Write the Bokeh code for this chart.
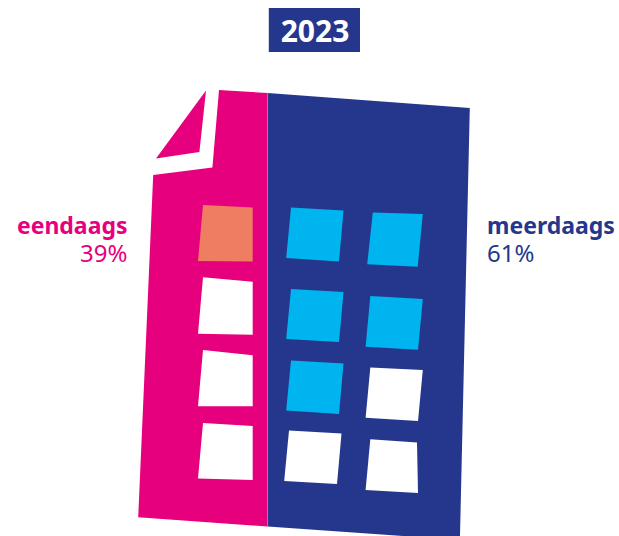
from bokeh.embed import file_html
from bokeh.resources import INLINE
from bokeh.plotting import figure
from bokeh.core.properties import value

# --- data ---
YEAR = "2023"
CATEGORIES = ["eendaags", "meerdaags"]
SHARES = [39, 61]

PINK = "#e6007e"
NAVY = "#25378d"
CYAN = "#00b5ef"
ORANGE = "#ef7d62"
WHITE = "#ffffff"

# pictogram outlines, in reference-picture pixels
PINK_X = [219, 267.6, 267.6, 138.2, 153.2, 212.4]
PINK_Y = [90, 93, 526.5, 517.3, 175, 167.5]
NAVY_X = [267.6, 469.8, 459.9, 267.6]
NAVY_Y = [93, 108, 540, 526.5]
FOLD_X = [206, 199.4, 156]
FOLD_Y = [90.6, 152, 158.6]

WINDOW_COLORS = [ORANGE, WHITE, WHITE, WHITE,
                 CYAN, CYAN, CYAN, WHITE,
                 CYAN, CYAN, WHITE, WHITE]
WINDOW_XS = [
    [203, 252.7, 252.7, 198], [203, 252.7, 252.7, 198], [203, 252.7, 252.7, 198], [203, 252.7, 252.7, 198],
    [291, 343.5, 339, 286.2], [291, 343.5, 339, 286.2], [291, 343.5, 339, 286.2], [289, 341.5, 337, 284.2],
    [372.8, 422.8, 417.7, 367.2], [370.3, 422.8, 418, 365.6], [370.3, 422.8, 418, 365.6], [370.3, 417, 418, 365.6],
]
WINDOW_YS = [
    [205, 207.5, 261.5, 261], [277.3, 281.7, 334.7, 333.7], [350, 355.2, 406.2, 406.2], [423, 426, 480, 478.6],
    [207.5, 210.6, 261.5, 258], [289, 292, 342, 339], [360.4, 363.4, 414, 410.6], [430.4, 433.5, 484, 481],
    [212.6, 214, 266.7, 264.3], [296, 299, 349.7, 346.7], [367.5, 370, 421, 417.8], [439.3, 442.4, 493, 490],
]

W, H = 619, 536
p = figure(width=W, height=H, output_backend="svg", toolbar_location=None,
           x_range=(0.5, W + 0.5), y_range=(H + 0.5, 0.5), min_border=0,
           outline_line_color=None, background_fill_color=WHITE)
p.xaxis.visible = False
p.yaxis.visible = False
p.xgrid.visible = False
p.ygrid.visible = False

# title box
p.patch([268.8, 360, 360, 268.8], [8, 8, 52, 52], fill_color=NAVY, line_color=None)
p.text([315], [30.5], text=[YEAR], text_color=WHITE, text_font=value("Noto Sans"),
       text_font_style="bold", text_font_size="30px", text_align="center", text_baseline="middle")

# building
p.patch(NAVY_X, NAVY_Y, fill_color=NAVY, line_color=None)
p.patch(PINK_X, PINK_Y, fill_color=PINK, line_color=None)
p.patch(FOLD_X, FOLD_Y, fill_color=PINK, line_color=None)
p.line([267.6, 267.6], [93, 526.5], line_color="#9a8cc0", line_width=0.7)
p.patches(WINDOW_XS, WINDOW_YS, fill_color=WINDOW_COLORS, line_color=None)

# labels
p.text([127.5], [224.5], text=[CATEGORIES[0]], text_color=PINK, text_font=value("Noto Sans"),
       text_font_style="bold", text_font_size="23px", text_align="right", text_baseline="middle")
p.text([127.5], [252.5], text=[f"{SHARES[0]}%"], text_color=PINK, text_font=value("Noto Sans"),
       text_font_size="24px", text_align="right", text_baseline="middle")
p.text([487], [224.5], text=[CATEGORIES[1]], text_color=NAVY, text_font=value("Noto Sans"),
       text_font_style="bold", text_font_size="23px", text_align="left", text_baseline="middle")
p.text([487], [252.5], text=[f"{SHARES[1]}%"], text_color=NAVY, text_font=value("Noto Sans"),
       text_font_size="24px", text_align="left", text_baseline="middle")

open("out.html", "w").write(file_html(p, INLINE))
